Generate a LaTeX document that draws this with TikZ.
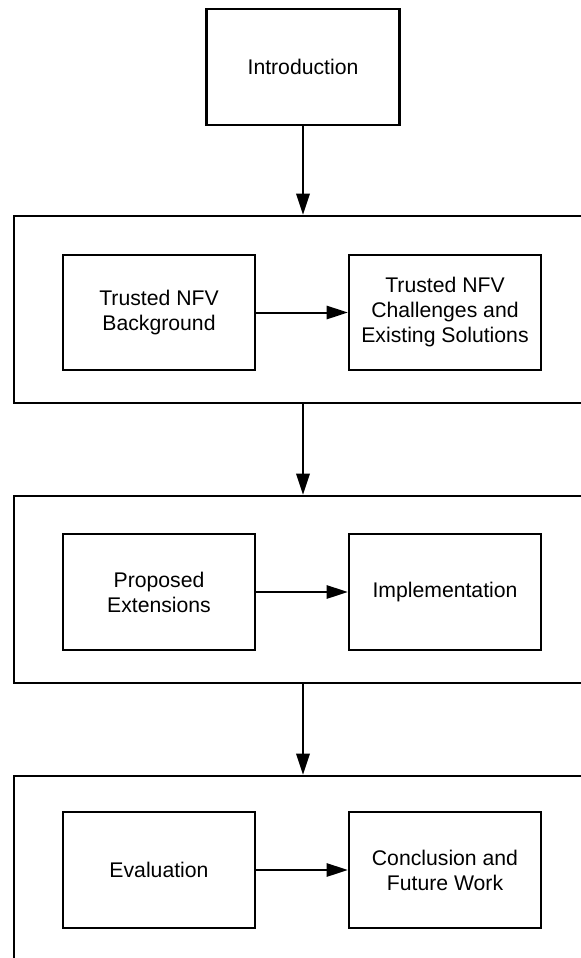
\documentclass[tikz,border=0pt]{standalone}
\usepackage{fontspec}
\setmainfont{Liberation Sans}
\usetikzlibrary{arrows.meta}

\tikzset{
	box/.style={draw, line width=1.7pt, minimum width=144pt, minimum height=86.5pt,
		align=center, inner sep=0pt, font=\fontsize{15.9}{18.75}\selectfont},
	frame/.style={draw, line width=1.7pt, minimum width=433.5pt, minimum height=140.25pt, inner sep=0pt},
	flow/.style={line width=1.8pt, -{Triangle[length=16pt,width=10pt]}},
	link/.style={line width=1.5pt, -{Triangle[length=16pt,width=10pt]}},
}

\begin{document}
\begin{tikzpicture}[x=0.75pt,y=-0.75pt]
	\newcommand\xL{159}
	\newcommand\xR{445}
	\newcommand\xM{303}

	\clip (0,0) rectangle (581,958);
	\useasboundingbox (0,0) rectangle (581,958);

	\node[box, minimum width=144.75pt, minimum height=87pt] (intro) at (\xM,67) {Introduction};

	% first group
	\node[frame] (grpA) at (\xM,309.5) {};
	\node[box] (bg) at (\xL,312.5) {Trusted NFV\\Background};
	\node[box] (chal) at (\xR,312.5) {Trusted NFV\\Challenges and\\Existing Solutions};

	% second group
	\node[frame] (grpB) at (\xM,589.5) {};
	\node[box] (ext) at (\xL,592) {Proposed\\Extensions};
	\node[box] (impl) at (\xR,592) {Implementation};

	% third group
	\node[frame] (grpC) at (\xM,869.5) {};
	\node[box] (eval) at (\xL,870) {Evaluation};
	\node[box] (concl) at (\xR,870) {Conclusion and\\Future Work};

	\draw[flow] (intro.south) -- (grpA.north);
	\draw[flow] (grpA.south) -- (grpB.north);
	\draw[flow] (grpB.south) -- (grpC.north);

	\draw[link] (bg) -- (chal);
	\draw[link] (ext) -- (impl);
	\draw[link] (eval) -- (concl);
\end{tikzpicture}
\end{document}
